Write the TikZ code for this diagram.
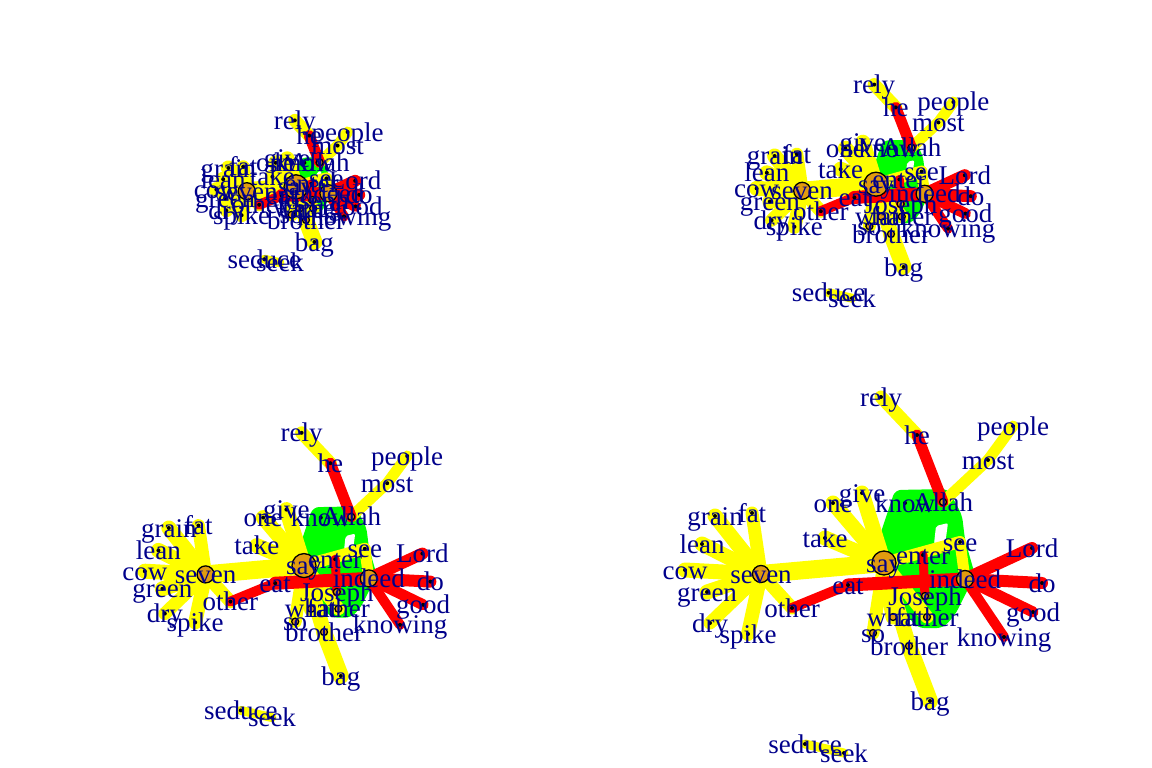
\documentclass[tikz,border=0pt]{standalone}
\usepackage{fontspec}
\setmainfont{Liberation Serif}
\definecolor{ye}{RGB}{255,255,0}
\definecolor{rd}{RGB}{255,0,0}
\definecolor{gr}{RGB}{0,255,0}
\definecolor{lblue}{RGB}{0,0,139}
\definecolor{vorange}{RGB}{225,155,15}
\tikzset{
 lbl/.style={font=\fontsize{27}{27}\selectfont, text=lblue, anchor=base, yshift=-9pt, inner sep=0pt},
 yedge/.style={draw=ye, line cap=round},
 redge/.style={draw=rd, line cap=round},
 vtx/.style={circle, fill=vorange, draw=black, line width=1.3pt, inner sep=0pt},
 bigv/.style={vtx, minimum size=24pt},
 midv/.style={vtx, minimum size=17pt},
 smlv/.style={vtx, minimum size=7pt},
 dotv/.style={circle, fill=black, inner sep=0pt, minimum size=4pt},
}
\newcommand{\netpanel}[4]{%
\begin{scope}[shift={(#2,#3)}, x=#4pt, y=-#4pt]
\coordinate (#1rely) at (17,-179);
\coordinate (#1he) at (53,-141);
\coordinate (#1people) at (149,-150);
\coordinate (#1most) at (124,-116);
\coordinate (#1Allah) at (79,-74);
\coordinate (#1know) at (41,-73);
\coordinate (#1give) at (-2,-83);
\coordinate (#1one) at (-31,-73);
\coordinate (#1take) at (-39,-38);
\coordinate (#1say) at (20,-13);
\coordinate (#1enter) at (59,-21);
\coordinate (#1see) at (96,-34);
\coordinate (#1Lord) at (168,-28);
\coordinate (#1indeed) at (101,3);
\coordinate (#1do) at (178,7);
\coordinate (#1good) at (169,36);
\coordinate (#1knowing) at (140,61);
\coordinate (#1Joseph) at (61,20);
\coordinate (#1father) at (63,41);
\coordinate (#1what) at (29,41);
\coordinate (#1so) at (9,57);
\coordinate (#1brother) at (45,70);
\coordinate (#1bag) at (66,125);
\coordinate (#1seduce) at (-59,168);
\coordinate (#1seek) at (-20,177);
\coordinate (#1eat) at (-16,9);
\coordinate (#1other) at (-72,32);
\coordinate (#1seven) at (-103,-2);
\coordinate (#1cow) at (-179,-6);
\coordinate (#1green) at (-157,16);
\coordinate (#1dry) at (-154,47);
\coordinate (#1spike) at (-116,58);
\coordinate (#1lean) at (-162,-32);
\coordinate (#1grain) at (-149,-60);
\coordinate (#1fat) at (-112,-63);
% group polygon
\fill[gr, rounded corners=6pt] (31,-86) -- (84,-87) -- (98,-61) -- (101,-36) -- (111,-1) -- (91,39) -- (79,52) -- (54,52) -- (29,24) -- (22,-6) -- (16,-41) -- cycle;
\fill[white, rounded corners=2pt] (72,-50) -- (84,-53) -- (81,-31) -- (70,-32) -- cycle;
% yellow edges
\draw[yedge, line width=13pt] (#1rely) -- (#1he);
\draw[yedge, line width=11pt] (#1Allah) -- (#1most);
\draw[yedge, line width=11pt] (#1most) -- (#1people);
\draw[yedge, line width=15pt] (#1seven) -- (#1grain);
\draw[yedge, line width=13pt] (#1seven) -- (#1fat);
\draw[yedge, line width=15pt] (#1seven) -- (#1lean);
\draw[yedge, line width=15pt] (#1seven) -- (#1cow);
\draw[yedge, line width=15pt] (#1seven) -- (#1green);
\draw[yedge, line width=13pt] (#1seven) -- (#1dry);
\draw[yedge, line width=14pt] (#1seven) -- (#1spike);
\draw[yedge, line width=13pt] (#1seven) -- (#1other);
\draw[yedge, line width=18pt] (#1seven) -- (#1say);
\draw[yedge, line width=15pt] (#1say) -- (#1take);
\draw[yedge, line width=15pt] (#1say) -- (#1one);
\draw[yedge, line width=15pt] (#1say) -- (#1give);
\draw[yedge, line width=12pt] (#1say) -- (#1see);
\draw[yedge, line width=11pt] (#1see) -- (#1indeed);
\draw[yedge, line width=15pt] (#1say) -- (#1what);
\draw[yedge, line width=13pt] (#1say) -- (#1so);
\draw[yedge, line width=15pt] (#1say) -- (#1brother);
\draw[yedge, line width=13pt] (#1say) -- (#1father);
\draw[yedge, line width=16pt] (#1brother) -- (#1bag);
\draw[yedge, line width=9pt] (#1seduce) -- (#1seek);
% red edges
\draw[redge, line width=11pt] (#1he) -- (#1Allah);
\draw[redge, line width=10pt] (#1other) -- (#1eat);
\draw[redge, line width=13pt] (#1eat) -- (#1indeed);
\draw[redge, line width=9pt] (#1enter) -- (#1Joseph);
\draw[redge, line width=12pt] (#1indeed) -- (#1Lord);
\draw[redge, line width=12pt] (#1indeed) -- (#1do);
\draw[redge, line width=11pt] (#1indeed) -- (#1good);
\draw[redge, line width=10pt] (#1indeed) -- (#1knowing);
% vertices
\foreach \v in {rely,he,people,most,know,give,one,take,enter,see,Lord,do,good,knowing,bag,seduce,seek,eat,other,cow,green,dry,spike,lean,grain,fat}
  {\node[dotv] (#1v\v) at (#1\v) {};}
\foreach \v in {Allah,Joseph,father,what,so,brother}
  {\node[smlv] (#1v\v) at (#1\v) {};}
\node[midv] (#1vseven) at (#1seven) {};
\node[midv] (#1vindeed) at (#1indeed) {};
\node[bigv] (#1vsay) at (#1say) {};
% labels
\foreach \v in {rely,he,people,most,Allah,know,give,one,take,say,enter,see,Lord,indeed,do,good,knowing,Joseph,father,what,so,brother,bag,seduce,seek,eat,other,seven,cow,green,dry,spike,lean,grain,fat}
  {\node[lbl] (#1l\v) at (#1\v) {\v};}
\end{scope}}
\begin{document}
\begin{tikzpicture}[x=1pt, y=-1pt]
\useasboundingbox (0,0) rectangle (1152,768);
\fill[white] (0,0) rectangle (1152,768);
\netpanel{a}{288}{192}{0.4}
\netpanel{b}{864}{192}{0.6}
\netpanel{c}{288}{576}{0.8}
\netpanel{d}{864}{576}{1.0}
\end{tikzpicture}
\end{document}
